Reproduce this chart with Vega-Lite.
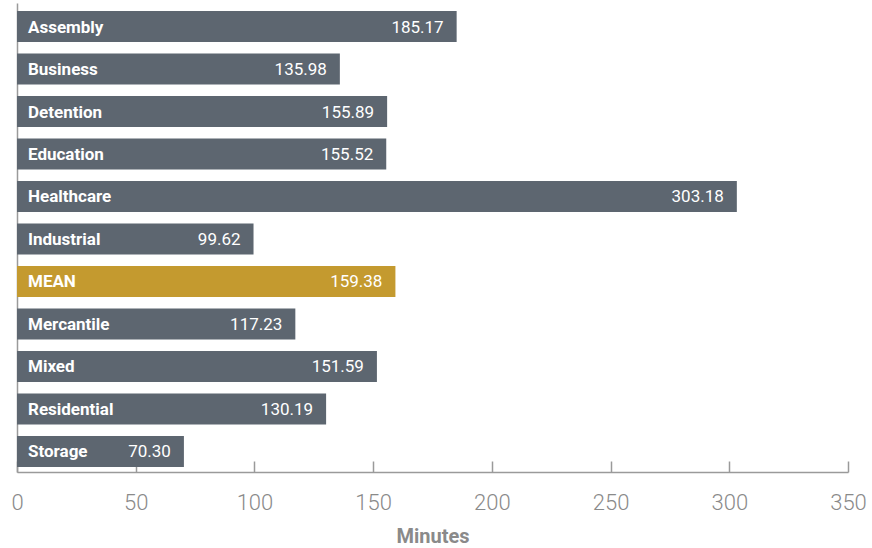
{
  "$schema": "https://vega.github.io/schema/vega-lite/v6.json",
  "autosize": {"type": "none"},
  "padding": {"left": 17, "top": 3, "right": 24, "bottom": 76},
  "width": 831,
  "height": 469,
  "background": "white",
  "config": {"view": {"stroke": null}, "font": "Roboto"},
  "data": {"values": [
    {"sector": "Assembly", "minutes": 185.17, "label": "185.17", "mean": false},
    {"sector": "Business", "minutes": 135.98, "label": "135.98", "mean": false},
    {"sector": "Detention", "minutes": 155.89, "label": "155.89", "mean": false},
    {"sector": "Education", "minutes": 155.52, "label": "155.52", "mean": false},
    {"sector": "Healthcare", "minutes": 303.18, "label": "303.18", "mean": false},
    {"sector": "Industrial", "minutes": 99.62, "label": "99.62", "mean": false},
    {"sector": "MEAN", "minutes": 159.38, "label": "159.38", "mean": true},
    {"sector": "Mercantile", "minutes": 117.23, "label": "117.23", "mean": false},
    {"sector": "Mixed", "minutes": 151.59, "label": "151.59", "mean": false},
    {"sector": "Residential", "minutes": 130.19, "label": "130.19", "mean": false},
    {"sector": "Storage", "minutes": 70.30, "label": "70.30", "mean": false}
  ]},
  "encoding": {
    "y": {
      "field": "sector", "type": "nominal", "sort": null,
      "scale": {"paddingInner": 0.27, "paddingOuter": 0.153, "align": 0.615},
      "axis": {"title": null, "labels": false, "ticks": false, "domain": true, "domainColor": "#9a9a9a", "domainWidth": 1.5}
    },
    "x": {
      "field": "minutes", "type": "quantitative",
      "scale": {"domain": [0, 350], "nice": false},
      "axis": {
        "values": [0, 50, 100, 150, 200, 250, 300, 350],
        "grid": false, "title": "Minutes",
        "titleFont": "Roboto", "titleFontSize": 20, "titleFontWeight": "bold", "titleColor": "#8a8a8a", "titlePadding": 13,
        "labelFont": "Roboto", "labelFontSize": 22, "labelFontWeight": 300, "labelColor": "#8a8a8a", "labelPadding": 31,
        "tickSize": -11, "tickColor": "#9a9a9a", "tickWidth": 1.5,
        "domainColor": "#9a9a9a", "domainWidth": 1.5,
        "labelFlush": false, "labelOverlap": false
      }
    }
  },
  "layer": [
    {
      "mark": {"type": "bar"},
      "encoding": {
        "color": {
          "field": "mean", "type": "nominal",
          "scale": {"domain": [false, true], "range": ["#5d6670", "#c49a2f"]},
          "legend": null
        }
      }
    },
    {
      "mark": {"type": "text", "align": "left", "baseline": "middle", "dx": 11, "dy": 1, "color": "white", "fontSize": 17, "fontWeight": "bold", "font": "Roboto"},
      "encoding": {"x": {"datum": 0}, "text": {"field": "sector"}}
    },
    {
      "mark": {"type": "text", "align": "right", "baseline": "middle", "dx": -13, "dy": 1, "color": "white", "fontSize": 17, "font": "Roboto"},
      "encoding": {"text": {"field": "label"}}
    }
  ]
}
